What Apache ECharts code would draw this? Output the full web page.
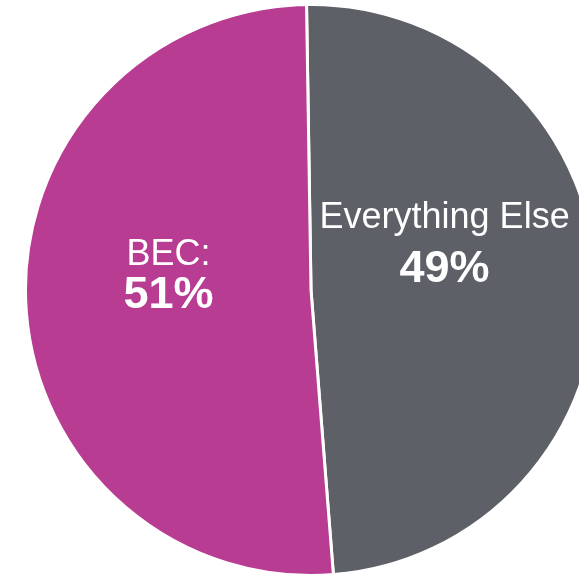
<!DOCTYPE html>
<html>
<head>
<meta charset="utf-8">
<style>
  html, body { margin: 0; padding: 0; background: #ffffff; }
  #chart { width: 579px; height: 575px; }
</style>
<script src="https://cdn.jsdelivr.net/npm/echarts@6/dist/echarts.min.js"></script>
</head>
<body>
<div id="chart"></div>
<script>
// Share of attacks: business email compromise vs. everything else
const categories = ['Everything Else', 'BEC'];
const labelNames = ['Everything Else', 'BEC:'];
const values = [49, 51];
const colors = ['#5E6068', '#B83C92'];

const chart = echarts.init(document.getElementById('chart'), null, { renderer: 'canvas' });

// per-slice label spacing and offsets
const nameLineHeights = [46, 36];
const valueLineHeights = [56, 46];
const labelShiftX = [-12, 3];
const labelShiftY = [-37, -19];

const seriesData = categories.map(function (c, i) {
  return {
    name: c,
    value: values[i],
    itemStyle: { color: colors[i] },
    label: {
      rich: {
        n: { fontSize: 36, color: '#ffffff', fontFamily: 'Liberation Sans, Arial, sans-serif', lineHeight: nameLineHeights[i], align: 'center' },
        v: { fontSize: 45, fontWeight: 'bold', color: '#ffffff', fontFamily: 'Liberation Sans, Arial, sans-serif', lineHeight: valueLineHeights[i], align: 'center' }
      }
    }
  };
});

chart.setOption({
  animation: false,
  backgroundColor: '#ffffff',
  series: [{
    type: 'pie',
    center: [311, 290],
    radius: [0, 285.5],
    startAngle: 90.9,
    clockwise: true,
    avoidLabelOverlap: false,
    itemStyle: { borderColor: '#ffffff', borderWidth: 3 },
    label: {
      show: true,
      position: 'inside',
      formatter: function (p) {
        return '{n|' + labelNames[p.dataIndex] + '}\n{v|' + p.value + '%}';
      }
    },
    labelLine: { show: false },
    labelLayout: function (p) {
      return { dx: labelShiftX[p.dataIndex], dy: labelShiftY[p.dataIndex] };
    },
    emphasis: { disabled: true },
    data: seriesData
  }]
});
</script>
</body>
</html>
